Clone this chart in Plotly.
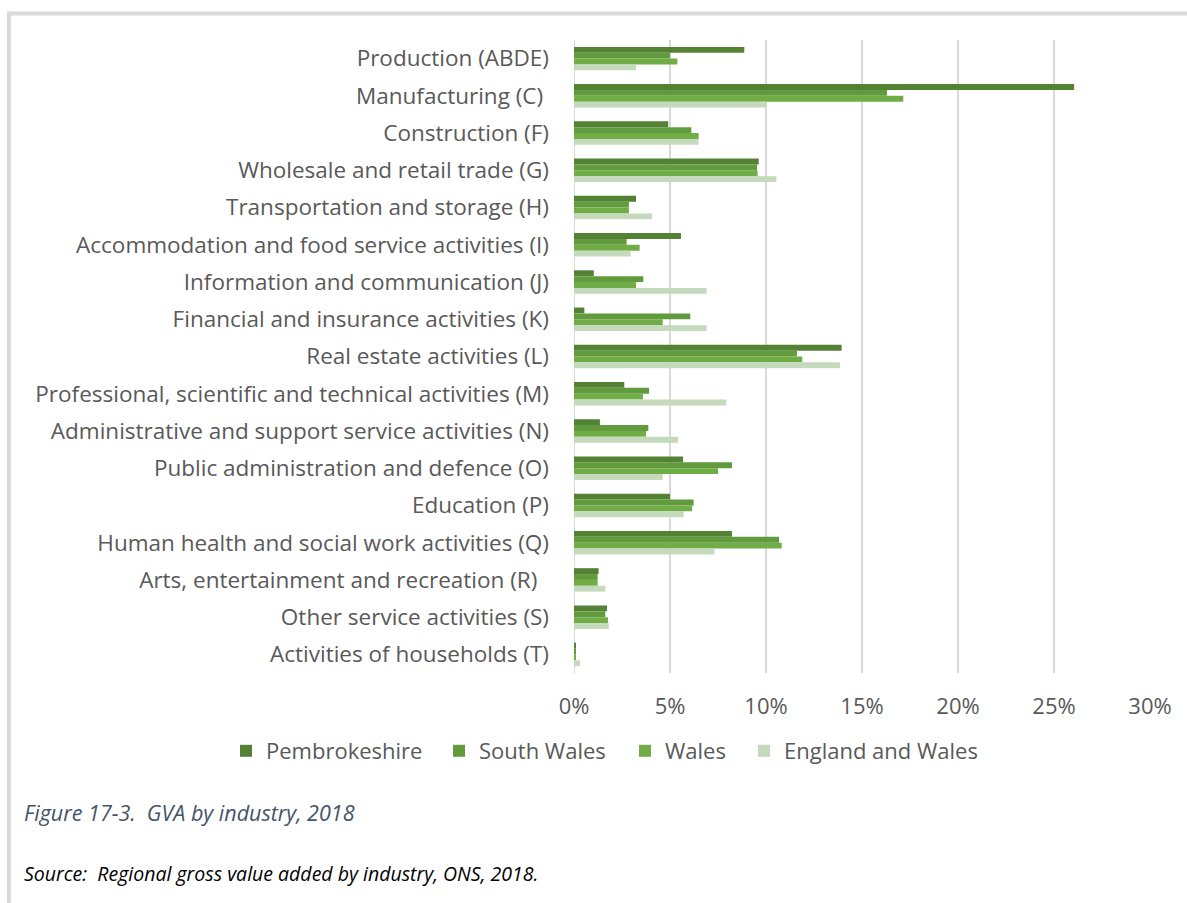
import plotly.graph_objects as go

# GVA share by industry, 2018 (percent of total GVA)
industries = [
    "Production (ABDE)",
    "Manufacturing (C)\u00a0",
    "Construction (F)",
    "Wholesale and retail trade (G)",
    "Transportation and storage (H)",
    "Accommodation and food service activities (I)",
    "Information and communication (J)",
    "Financial and insurance activities (K)",
    "Real estate activities (L)",
    "Professional, scientific and technical activities (M)",
    "Administrative and support service activities (N)",
    "Public administration and defence (O)",
    "Education (P)",
    "Human health and social work activities (Q)",
    "Arts, entertainment and recreation (R)\u00a0\u00a0",
    "Other service activities (S)",
    "Activities of households (T)",
]

pembrokeshire = [8.87, 26.05, 4.91, 9.62, 3.23, 5.57, 1.03, 0.54, 13.94, 2.62,
                 1.35, 5.68, 5.00, 8.23, 1.28, 1.72, 0.08]
south_wales = [5.00, 16.30, 6.11, 9.53, 2.86, 2.74, 3.61, 6.06, 11.61, 3.91,
               3.87, 8.23, 6.23, 10.68, 1.23, 1.63, 0.08]
wales = [5.38, 17.15, 6.49, 9.56, 2.86, 3.42, 3.23, 4.62, 11.89, 3.59,
         3.75, 7.50, 6.15, 10.82, 1.23, 1.77, 0.08]
england_wales = [3.23, 10.00, 6.49, 10.54, 4.06, 2.95, 6.91, 6.91, 13.85, 7.93,
                 5.42, 4.62, 5.71, 7.31, 1.63, 1.81, 0.31]

series_names = ["Pembrokeshire", "South Wales", "Wales", "England and Wales"]
series_values = [pembrokeshire, south_wales, wales, england_wales]
series_colors = ["#548235", "#629A3E", "#70AD47", "#C5D9BC"]

x_ticks = [0, 5, 10, 15, 20, 25, 30]
x_tick_labels = ["0%", "5%", "10%", "15%", "20%", "25%", "30%"]

FONT = "Open Sans"
GREY_TEXT = "#595959"

W, H = 1187, 903
L, R, T, B = 574, 1150, 40, 673


def px_x(px):
    return (px - L) / (R - L)


def px_y(py):
    return (B - py) / (B - T)


# each series gets its own legend box so the entries can be spaced freely
legend_ids = ["legend", "legend2", "legend3", "legend4"]
legend_left_px = [226, 439, 625, 744]

fig = go.Figure()
for name, vals, color, lid in zip(series_names, series_values, series_colors, legend_ids):
    fig.add_trace(go.Bar(
        name=name,
        y=industries,
        x=vals,
        orientation="h",
        marker=dict(color=color, line=dict(width=0)),
        legend=lid,
    ))

legend_layouts = {}
for lid, left in zip(legend_ids, legend_left_px):
    legend_layouts[lid] = dict(
        orientation="h",
        x=px_x(left),
        xanchor="left",
        y=px_y(751),
        yanchor="middle",
        font=dict(size=22, color=GREY_TEXT, family=FONT),
        bgcolor="rgba(0,0,0,0)",
        borderwidth=0,
        itemwidth=30,
    )

fig.update_layout(
    width=W,
    height=H,
    margin=dict(l=L, r=W - R, t=T, b=H - B, pad=0),
    paper_bgcolor="white",
    plot_bgcolor="white",
    barmode="group",
    bargap=0.37,
    bargroupgap=0,
    font=dict(family=FONT, color=GREY_TEXT, size=22),
    xaxis=dict(
        range=[0, 30],
        tickmode="array",
        tickvals=x_ticks,
        ticktext=x_tick_labels,
        showgrid=True,
        gridcolor="#D9D9D9",
        gridwidth=2,
        zeroline=False,
        showline=False,
        ticks="",
        ticklabelstandoff=18,
        tickfont=dict(size=22, color=GREY_TEXT, family=FONT),
        fixedrange=True,
    ),
    yaxis=dict(
        autorange="reversed",
        showgrid=False,
        zeroline=False,
        showline=False,
        ticks="",
        ticklabelstandoff=24,
        tickfont=dict(size=22.5, color=GREY_TEXT, family=FONT),
        fixedrange=True,
    ),
    showlegend=True,
    **legend_layouts,
)

# zero line drawn as a grid line
fig.add_shape(type="line", xref="x", yref="paper", x0=0, x1=0, y0=0, y1=1,
              line=dict(color="#D9D9D9", width=2), layer="below")

# frame around the figure (top and left edges)
fig.add_shape(type="line", xref="paper", yref="paper",
              x0=px_x(7), x1=px_x(W + 5), y0=px_y(13.5), y1=px_y(13.5),
              line=dict(color="#D9DADC", width=4))
fig.add_shape(type="line", xref="paper", yref="paper",
              x0=px_x(9), x1=px_x(9), y0=px_y(12), y1=px_y(H + 5),
              line=dict(color="#D9DADC", width=4))

fig.add_annotation(
    text="<i>Figure 17-3.  GVA by industry, 2018</i>",
    xref="paper", yref="paper", x=px_x(22), y=px_y(812),
    xanchor="left", yanchor="middle", showarrow=False,
    font=dict(size=21.5, color="#44546A", family=FONT),
)
fig.add_annotation(
    text="<i>Source:  Regional gross value added by industry, ONS, 2018.</i>",
    xref="paper", yref="paper", x=px_x(22), y=px_y(873),
    xanchor="left", yanchor="middle", showarrow=False,
    font=dict(size=19.5, color="#000000", family=FONT),
)

fig.write_html("out.html")
